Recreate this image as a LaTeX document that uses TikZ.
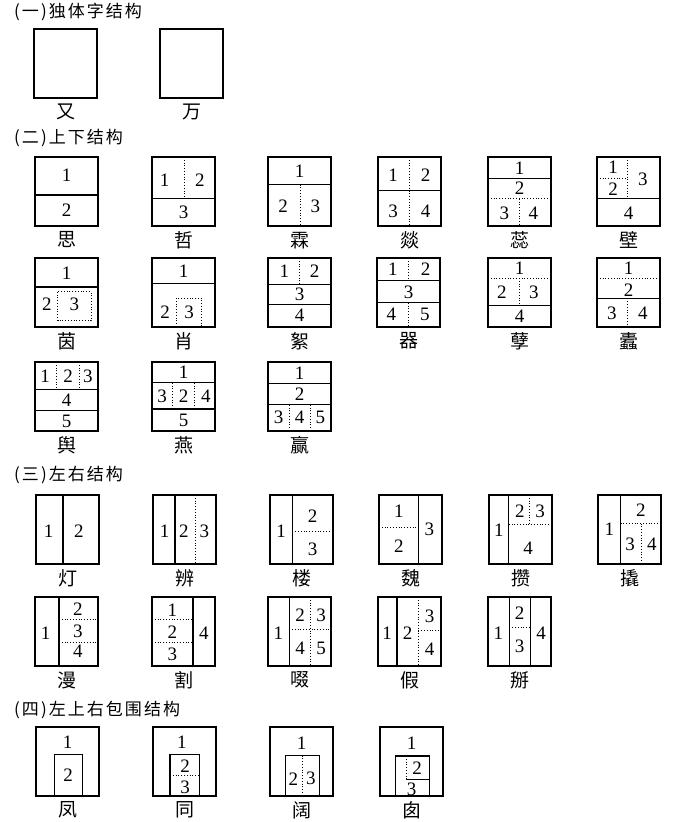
\documentclass[tikz,border=0pt]{standalone}
\usepackage{fontspec}
\setmainfont{Liberation Serif}
\newfontfamily\cjk{Noto Sans CJK SC}
\newfontfamily\cjkwide[LetterSpace=12]{Noto Sans CJK SC}
\usetikzlibrary{positioning}

\tikzset{
  zframe/.style={draw, line width=1.2pt, minimum width=63pt, minimum height=69pt, inner sep=0pt},
  sline/.style={line width=1.2pt},
  dline/.style={line width=1pt, dash pattern=on 1pt off 1.8pt},
  digit/.style={font=\fontsize{19}{19}\selectfont, inner sep=0pt},
  zi/.style={font=\cjk\fontsize{19}{19}\selectfont, inner sep=0pt},
  heading/.style={font=\cjkwide\fontsize{17}{17}\selectfont, anchor=west, inner sep=0pt},
}

% #1 name, #2 left, #3 top, #4 character, #5 parts (in the unit square of the box)
\newcommand{\zibox}[5]{%
  \begin{scope}[shift={(#2,#3)}, x=63pt, y=-69pt]
    \node[zframe] (#1) at (0.5,0.5) {};
    #5
    \node[zi, below=5pt of #1] (#1-zi) {#4};
  \end{scope}}

\begin{document}
\begin{tikzpicture}[x=1pt, y=-1pt]
\useasboundingbox (0,0) rectangle (674,822);

% headings
\node[heading] (h1) at (14,12) {(一)独体字结构};
\node[heading] (h2) at (14,138) {(二)上下结构};
\node[heading] (h3) at (14,475) {(三)左右结构};
\node[heading] (h4) at (14,710) {(四)左上右包围结构};

% (一)
\zibox{you}{34}{29}{又}{}
\zibox{wan}{160}{29}{万}{}

% (二) first row
\zibox{si}{35}{157}{思}{
  \draw[sline] (0,0.55) -- (1,0.55);
  \node[digit] at (0.5,0.27) {1};
  \node[digit] at (0.5,0.77) {2};}
\zibox{zhe}{152}{157}{哲}{
  \draw[sline] (0,0.60) -- (1,0.60);
  \draw[dline] (0.51,0) -- (0.51,0.60);
  \node[digit] at (0.20,0.33) {1};
  \node[digit] at (0.76,0.33) {2};
  \node[digit] at (0.5,0.80) {3};}
\zibox{lin}{268}{157}{霖}{
  \draw[sline] (0,0.40) -- (1,0.40);
  \draw[dline] (0.51,0.40) -- (0.51,1);
  \node[digit] at (0.5,0.2) {1};
  \node[digit] at (0.24,0.72) {2};
  \node[digit] at (0.75,0.72) {3};}
\zibox{yi}{378}{157}{燚}{
  \draw[sline] (0,0.49) -- (1,0.49);
  \draw[dline] (0.495,0) -- (0.495,1);
  \node[digit] at (0.24,0.27) {1};
  \node[digit] at (0.755,0.27) {2};
  \node[digit] at (0.24,0.79) {3};
  \node[digit] at (0.755,0.79) {4};}
\zibox{rui}{488}{157}{蕊}{
  \draw[sline] (0,0.31) -- (1,0.31);
  \draw[dline] (0,0.605) -- (1,0.605);
  \draw[dline] (0.50,0.605) -- (0.50,1);
  \node[digit] at (0.5,0.16) {1};
  \node[digit] at (0.5,0.455) {2};
  \node[digit] at (0.26,0.81) {3};
  \node[digit] at (0.72,0.81) {4};}
\zibox{bi}{597}{157}{壁}{
  \draw[sline] (0,0.60) -- (1,0.60);
  \draw[dline] (0.48,0) -- (0.48,0.60);
  \draw[dline] (0,0.305) -- (0.48,0.305);
  \node[digit] at (0.255,0.15) {1};
  \node[digit] at (0.255,0.46) {2};
  \node[digit] at (0.73,0.33) {3};
  \node[digit] at (0.5,0.81) {4};}

% (二) second row
\zibox{yin}{35}{258}{茵}{
  \draw[sline] (0,0.42) -- (1,0.42);
  \draw[dline] (0.36,0.49) rectangle (0.89,0.91);
  \node[digit] at (0.5,0.215) {1};
  \node[digit] at (0.19,0.67) {2};
  \node[digit] at (0.625,0.67) {3};}
\zibox{xiao}{152}{258}{肖}{
  \draw[sline] (0,0.375) -- (1,0.375);
  \draw[dline] (0.385,1) -- (0.385,0.585) -- (0.79,0.585) -- (0.79,1);
  \node[digit] at (0.5,0.19) {1};
  \node[digit] at (0.21,0.79) {2};
  \node[digit] at (0.59,0.79) {3};}
\zibox{xu}{268}{258}{絮}{
  \draw[sline] (0,0.385) -- (1,0.385);
  \draw[sline] (0,0.67) -- (1,0.67);
  \draw[dline] (0.50,0) -- (0.50,0.385);
  \node[digit] at (0.26,0.19) {1};
  \node[digit] at (0.74,0.19) {2};
  \node[digit] at (0.5,0.53) {3};
  \node[digit] at (0.5,0.835) {4};}
\zibox{qi}{377}{258}{器}{
  \draw[sline] (0,0.33) -- (1,0.33);
  \draw[sline] (0,0.65) -- (1,0.65);
  \draw[dline] (0.505,0) -- (0.505,0.33);
  \draw[dline] (0.505,0.65) -- (0.505,1);
  \node[digit] at (0.25,0.16) {1};
  \node[digit] at (0.77,0.16) {2};
  \node[digit] at (0.5,0.50) {3};
  \node[digit] at (0.23,0.82) {4};
  \node[digit] at (0.76,0.82) {5};}
\zibox{nie}{488}{258}{孽}{
  \draw[dline] (0,0.29) -- (1,0.29);
  \draw[sline] (0,0.69) -- (1,0.69);
  \draw[dline] (0.50,0.29) -- (0.50,0.69);
  \node[digit] at (0.5,0.145) {1};
  \node[digit] at (0.22,0.49) {2};
  \node[digit] at (0.73,0.49) {3};
  \node[digit] at (0.5,0.85) {4};}
\zibox{du}{597}{258}{蠹}{
  \draw[dline] (0,0.29) -- (1,0.29);
  \draw[sline] (0,0.585) -- (1,0.585);
  \draw[dline] (0.485,0.585) -- (0.485,1);
  \node[digit] at (0.5,0.145) {1};
  \node[digit] at (0.5,0.46) {2};
  \node[digit] at (0.235,0.80) {3};
  \node[digit] at (0.73,0.80) {4};}

% (二) third row
\zibox{yu}{35}{362}{舆}{
  \draw[sline] (0,0.395) -- (1,0.395);
  \draw[sline] (0,0.705) -- (1,0.705);
  \draw[dline] (0.34,0) -- (0.34,0.395);
  \draw[dline] (0.70,0) -- (0.70,0.395);
  \node[digit] at (0.16,0.21) {1};
  \node[digit] at (0.525,0.21) {2};
  \node[digit] at (0.84,0.21) {3};
  \node[digit] at (0.5,0.55) {4};
  \node[digit] at (0.5,0.86) {5};}
\zibox{yan}{152}{362}{燕}{
  \draw[sline] (0,0.30) -- (1,0.30);
  \draw[sline] (0,0.68) -- (1,0.68);
  \draw[dline] (0.32,0.30) -- (0.32,0.68);
  \draw[dline] (0.68,0.30) -- (0.68,0.68);
  \node[digit] at (0.5,0.155) {1};
  \node[digit] at (0.16,0.50) {3};
  \node[digit] at (0.50,0.50) {2};
  \node[digit] at (0.855,0.50) {4};
  \node[digit] at (0.5,0.84) {5};}
\zibox{ying}{268}{362}{赢}{
  \draw[sline] (0,0.31) -- (1,0.31);
  \draw[sline] (0,0.62) -- (1,0.62);
  \draw[dline] (0.34,0.62) -- (0.34,1);
  \draw[dline] (0.68,0.62) -- (0.68,1);
  \node[digit] at (0.5,0.16) {1};
  \node[digit] at (0.5,0.47) {2};
  \node[digit] at (0.17,0.80) {3};
  \node[digit] at (0.50,0.80) {4};
  \node[digit] at (0.83,0.80) {5};}

% (三) first row
\zibox{deng}{36}{495}{灯}{
  \draw[sline] (0.43,0) -- (0.43,1);
  \node[digit] at (0.20,0.52) {1};
  \node[digit] at (0.68,0.52) {2};}
\zibox{bian}{153}{495}{辨}{
  \draw[sline] (0.35,0) -- (0.35,1);
  \draw[dline] (0.67,0) -- (0.67,1);
  \node[digit] at (0.185,0.52) {1};
  \node[digit] at (0.49,0.52) {2};
  \node[digit] at (0.815,0.52) {3};}
\zibox{lou}{270}{495}{楼}{
  \draw[sline] (0.355,0) -- (0.355,1);
  \draw[dline] (0.355,0.53) -- (1,0.53);
  \node[digit] at (0.175,0.53) {1};
  \node[digit] at (0.675,0.31) {2};
  \node[digit] at (0.675,0.78) {3};}
\zibox{wei}{379}{495}{魏}{
  \draw[sline] (0.625,0) -- (0.625,1);
  \draw[dline] (0,0.47) -- (0.625,0.47);
  \node[digit] at (0.315,0.23) {1};
  \node[digit] at (0.315,0.74) {2};
  \node[digit] at (0.80,0.50) {3};}
\zibox{zan}{489}{495}{攒}{
  \draw[sline] (0.315,0) -- (0.315,1);
  \draw[dline] (0.315,0.43) -- (1,0.43);
  \draw[dline] (0.65,0) -- (0.65,0.43);
  \node[digit] at (0.155,0.51) {1};
  \node[digit] at (0.49,0.24) {2};
  \node[digit] at (0.81,0.24) {3};
  \node[digit] at (0.62,0.77) {4};}
\zibox{qiao}{598}{495}{撬}{
  \draw[sline] (0.36,0) -- (0.36,1);
  \draw[dline] (0.36,0.415) -- (1,0.415);
  \draw[dline] (0.695,0.415) -- (0.695,1);
  \node[digit] at (0.18,0.50) {1};
  \node[digit] at (0.68,0.22) {2};
  \node[digit] at (0.51,0.72) {3};
  \node[digit] at (0.855,0.72) {4};}

% (三) second row
\zibox{man}{35}{597}{漫}{
  \draw[sline] (0.38,0) -- (0.38,1);
  \draw[dline] (0.38,0.33) -- (1,0.33);
  \draw[dline] (0.38,0.66) -- (1,0.66);
  \node[digit] at (0.17,0.53) {1};
  \node[digit] at (0.68,0.18) {2};
  \node[digit] at (0.68,0.50) {3};
  \node[digit] at (0.68,0.79) {4};}
\zibox{ge}{152}{597}{割}{
  \draw[sline] (0.65,0) -- (0.65,1);
  \draw[dline] (0,0.33) -- (0.65,0.33);
  \draw[dline] (0,0.66) -- (0.65,0.66);
  \node[digit] at (0.325,0.19) {1};
  \node[digit] at (0.325,0.51) {2};
  \node[digit] at (0.325,0.83) {3};
  \node[digit] at (0.825,0.52) {4};}
\zibox{chuo}{268}{597}{啜}{
  \draw[sline] (0.335,0) -- (0.335,1);
  \draw[dline] (0.335,0.475) -- (1,0.475);
  \draw[dline] (0.675,0) -- (0.675,1);
  \node[digit] at (0.165,0.53) {1};
  \node[digit] at (0.51,0.27) {2};
  \node[digit] at (0.845,0.27) {3};
  \node[digit] at (0.51,0.74) {4};
  \node[digit] at (0.845,0.74) {5};}
\zibox{jia}{378}{597}{假}{
  \draw[sline] (0.30,0) -- (0.30,1);
  \draw[dline] (0.64,0) -- (0.64,1);
  \draw[dline] (0.64,0.485) -- (1,0.485);
  \node[digit] at (0.145,0.53) {1};
  \node[digit] at (0.47,0.53) {2};
  \node[digit] at (0.82,0.28) {3};
  \node[digit] at (0.82,0.75) {4};}
\zibox{bai}{488}{597}{掰}{
  \draw[sline] (0.34,0) -- (0.34,1);
  \draw[sline] (0.68,0) -- (0.68,1);
  \draw[dline] (0.34,0.44) -- (0.68,0.44);
  \node[digit] at (0.165,0.53) {1};
  \node[digit] at (0.50,0.23) {2};
  \node[digit] at (0.50,0.72) {3};
  \node[digit] at (0.845,0.52) {4};}

% (四)
\zibox{feng}{36}{727}{凤}{
  \draw[sline] (0.29,1) -- (0.29,0.40) -- (0.74,0.40) -- (0.74,1);
  \node[digit] at (0.5,0.215) {1};
  \node[digit] at (0.51,0.70) {2};}
\zibox{tong}{153}{727}{同}{
  \draw[sline] (0.27,1) -- (0.27,0.40) -- (0.74,0.40) -- (0.74,1);
  \draw[dline] (0.27,0.705) -- (0.74,0.705);
  \node[digit] at (0.46,0.215) {1};
  \node[digit] at (0.51,0.57) {2};
  \node[digit] at (0.51,0.87) {3};}
\zibox{kuo}{270}{727}{阔}{
  \draw[sline] (0.245,1) -- (0.245,0.415) -- (0.78,0.415) -- (0.78,1);
  \draw[dline] (0.52,0.415) -- (0.52,1);
  \node[digit] at (0.50,0.235) {1};
  \node[digit] at (0.37,0.75) {2};
  \node[digit] at (0.65,0.75) {3};}
\zibox{cong}{380}{727}{囱}{
  \draw[sline] (0.25,1) -- (0.25,0.42) -- (0.78,0.42) -- (0.78,1);
  \draw[dline] (0.425,0.42) -- (0.425,0.74);
  \draw[sline] (0.425,0.74) -- (0.425,0.76) -- (0.78,0.76);
  \node[digit] at (0.5,0.24) {1};
  \node[digit] at (0.59,0.60) {2};
  \node[digit] at (0.5,0.91) {3};}
\end{tikzpicture}
\end{document}
